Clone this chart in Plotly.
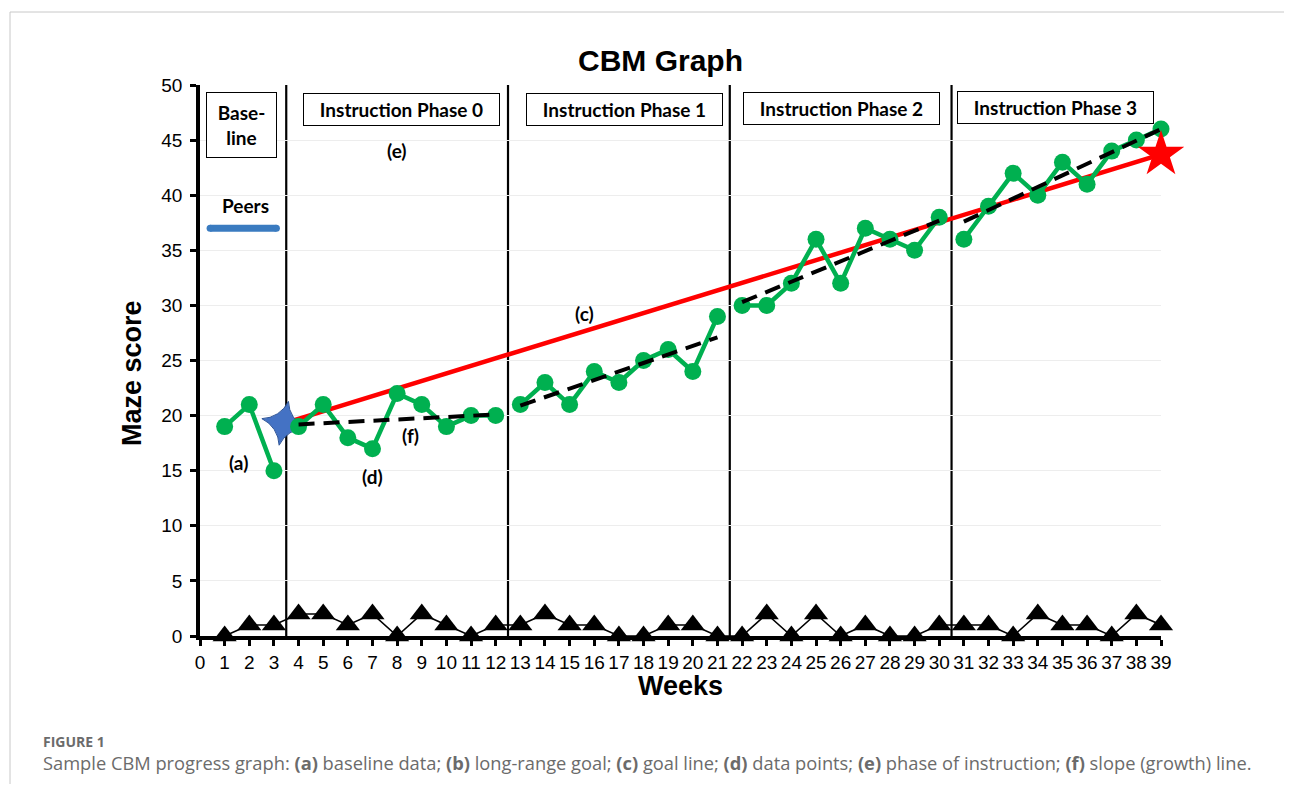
import plotly.graph_objects as go

# ---------------- data ----------------
weeks = list(range(1, 40))
maze_scores = [19, 21, 15,
               19, 21, 18, 17, 22, 21, 19, 20, 20,
               21, 23, 21, 24, 23, 25, 26, 24, 29,
               30, 30, 32, 36, 32, 37, 36, 35, 38,
               36, 39, 42, 40, 43, 41, 44, 45, 46]
errors = [0, 1, 1, 2, 2, 1, 2, 0, 2, 1,
          0, 1, 1, 2, 1, 1, 0, 0, 1, 1,
          0, 0, 2, 0, 2, 0, 1, 0, 0, 1,
          1, 1, 0, 2, 1, 1, 0, 2, 1]
phase_last_week = [3, 12, 21, 30]          # last week of each segment before a phase change
phase_lines = [3.5, 12.5, 21.5, 30.5]
phase_labels = ["Instruction Phase 0", "Instruction Phase 1",
                "Instruction Phase 2", "Instruction Phase 3"]
trend_x = [[4, 12], [13, 21], [22, 30], [31, 39]]
trend_y = [[19.2, 20.1], [20.9, 27.1], [30.3, 37.7], [37.6, 46.0]]
goal_x = [3.4, 39]
goal_y = [19.3, 43.7]
peers_x = [0.41, 3.1]
peers_y = [37, 37]
x_ticks = list(range(0, 40))
y_ticks = list(range(0, 51, 5))

# ---------------- layout geometry (page pixels) ----------------
OFF = 8                      # default body margin of the html page
PAGE_W, PAGE_H = 1292, 792
FW, FH = PAGE_W - 2 * OFF, PAGE_H - 2 * OFF
L, R, T, B = 200, 1161, 85, 636
PW, PH = R - L, B - T


def px(x):
    return (x - L) / PW


def py(y):
    return (B - y) / PH


ARIAL = "Liberation Sans, Arial, sans-serif"
CALIBRI = "Lato, Carlito, Calibri, sans-serif"
CAPFONT = "Open Sans, Noto Sans, sans-serif"

fig = go.Figure()

# errors (triangles)
fig.add_trace(go.Scatter(
    x=weeks, y=errors, mode="lines+markers",
    line=dict(color="black", width=1.6),
    marker=dict(symbol="triangle-up", size=21, color="black"),
    cliponaxis=False, showlegend=False, hoverinfo="skip"))

# peers line
fig.add_trace(go.Scatter(
    x=peers_x, y=peers_y, mode="lines+markers",
    line=dict(color="#3A7BC0", width=7),
    marker=dict(size=7, color="#3A7BC0"),
    showlegend=False, hoverinfo="skip"))

# goal line
fig.add_trace(go.Scatter(
    x=goal_x, y=goal_y, mode="lines",
    line=dict(color="#FF0000", width=4.5),
    showlegend=False, hoverinfo="skip"))

# baseline star
fig.add_trace(go.Scatter(
    x=[goal_x[0]], y=[goal_y[0]], mode="markers",
    marker=dict(symbol="star-diamond", size=32, color="#4472C4", angle=12,
                line=dict(color="#2F5597", width=1)),
    cliponaxis=False, showlegend=False, hoverinfo="skip"))

# data points, split by phase
gx, gy = [], []
for w, s in zip(weeks, maze_scores):
    gx.append(w)
    gy.append(s)
    if w in phase_last_week:
        gx.append(None)
        gy.append(None)
fig.add_trace(go.Scatter(
    x=gx, y=gy, mode="lines+markers",
    line=dict(color="#00B050", width=4.5),
    marker=dict(symbol="circle", size=17, color="#00B050"),
    connectgaps=False, cliponaxis=False, showlegend=False, hoverinfo="skip"))

# trend lines
for tx, ty in zip(trend_x, trend_y):
    fig.add_trace(go.Scatter(
        x=tx, y=ty, mode="lines",
        line=dict(color="black", width=4, dash="16px,9px"),
        showlegend=False, hoverinfo="skip"))

# goal star
fig.add_trace(go.Scatter(
    x=[goal_x[1]], y=[goal_y[1]], mode="markers",
    marker=dict(symbol="star", size=35, color="#FF0000"),
    cliponaxis=False, showlegend=False, hoverinfo="skip"))

shapes = []
for xv in phase_lines:
    shapes.append(dict(type="line", xref="x", yref="paper", x0=xv, x1=xv, y0=0, y1=1,
                       line=dict(color="black", width=2.2), layer="below"))
# page frame
shapes.append(dict(type="line", xref="paper", yref="paper", x0=px(10), x1=px(PAGE_W + 5),
                   y0=py(12), y1=py(12), line=dict(color="#C8C8C8", width=1)))
shapes.append(dict(type="line", xref="paper", yref="paper", x0=px(10), x1=px(10),
                   y0=py(12), y1=py(PAGE_H + 5), line=dict(color="#C8C8C8", width=1)))

annotations = []
# phase boxes
box_cx = [401, 624, 841.5, 1055.5]
box_cy = [109.5, 109.5, 108, 107.5]
for lab, cx, cy in zip(phase_labels, box_cx, box_cy):
    annotations.append(dict(
        text="<b>" + lab + "</b>", xref="paper", yref="paper", x=px(cx), y=py(cy),
        xanchor="center", yanchor="middle", showarrow=False,
        width=191, height=27, borderpad=2, bordercolor="black", borderwidth=1,
        bgcolor="white", font=dict(family=CALIBRI, size=19, color="black")))
annotations.append(dict(
    text="<b>Base-<br>line</b>", xref="paper", yref="paper", x=px(241.5), y=py(124.5),
    xanchor="center", yanchor="middle", showarrow=False,
    width=65, height=60, borderpad=2, bordercolor="black", borderwidth=1,
    bgcolor="white", font=dict(family=CALIBRI, size=19, color="black")))

# letter labels
labels = [("Peers", 1.83, 39.1), ("(a)", 1.58, 15.7), ("(b)", 39.09, 40.3),
          ("(c)", 15.62, 29.3), ("(d)", 7.02, 14.5), ("(e)", 8.0, 44.1),
          ("(f)", 8.53, 18.2)]
for t, xv, yv in labels:
    annotations.append(dict(
        text="<b>" + t + "</b>", x=xv, y=yv, xref="x", yref="y", showarrow=False,
        xanchor="center", yanchor="middle",
        font=dict(family=CALIBRI, size=19, color="black")))

# titles
annotations.append(dict(text="<b>CBM Graph</b>", xref="paper", yref="paper",
                        x=px(660), y=py(60), xanchor="center", yanchor="middle",
                        showarrow=False, font=dict(family=ARIAL, size=30, color="black")))
annotations.append(dict(text="<b>Weeks</b>", xref="paper", yref="paper",
                        x=px(680), y=py(686), xanchor="center", yanchor="middle",
                        showarrow=False, font=dict(family=ARIAL, size=27, color="black")))
annotations.append(dict(text="<b>Maze score</b>", xref="paper", yref="paper",
                        x=px(132), y=py(373), xanchor="center", yanchor="middle",
                        textangle=-90, showarrow=False,
                        font=dict(family=ARIAL, size=27, color="black")))

# caption
annotations.append(dict(text="<b>FIGURE 1</b>", xref="paper", yref="paper",
                        x=px(41), y=py(741), xanchor="left", yanchor="middle",
                        showarrow=False, font=dict(family=CAPFONT, size=14, color="#6b6b6b")))
cap = ("Sample CBM progress graph: <b>(a)</b> baseline data; <b>(b)</b> long-range goal; "
       "<b>(c)</b> goal line; <b>(d)</b> data points; <b>(e)</b> phase of instruction; "
       "<b>(f)</b> slope (growth) line.")
annotations.append(dict(text=cap, xref="paper", yref="paper",
                        x=px(41), y=py(762), xanchor="left", yanchor="middle",
                        showarrow=False, font=dict(family=CAPFONT, size=18.3, color="#6b6b6b")))

fig.update_layout(
    width=FW, height=FH,
    margin=dict(l=L - OFF, r=(FW + OFF) - R, t=T - OFF, b=(FH + OFF) - B, pad=0),
    paper_bgcolor="white", plot_bgcolor="white",
    showlegend=False,
    shapes=shapes, annotations=annotations,
    xaxis=dict(range=[0, 39], tickvals=x_ticks, ticktext=[str(v) for v in x_ticks],
               showgrid=False, zeroline=False, showline=True, linecolor="black",
               linewidth=3.5, ticks="outside", ticklen=6, tickwidth=2.5, tickcolor="black",
               tickfont=dict(family=ARIAL, size=19, color="black")),
    yaxis=dict(range=[0, 50], tickvals=y_ticks, showgrid=True, gridcolor="#EDEDED",
               gridwidth=1, zeroline=False, showline=True, linecolor="black",
               linewidth=3.5, ticks="outside", ticklen=6, tickwidth=2.5, tickcolor="black",
               ticklabelstandoff=4,
               tickfont=dict(family=ARIAL, size=19, color="black")),
)

fig.write_html("out.html")
